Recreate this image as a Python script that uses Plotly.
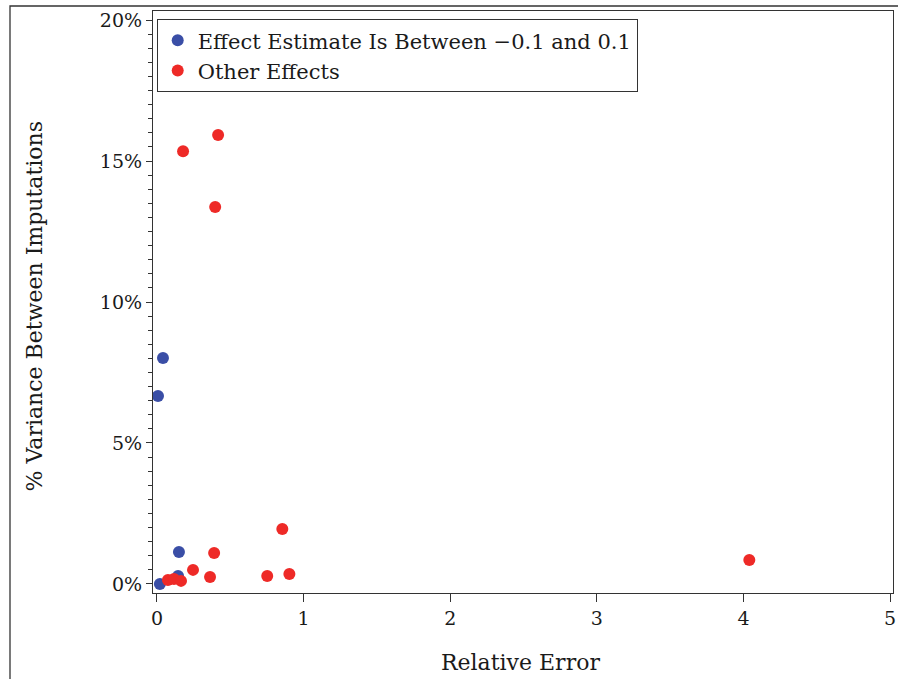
import plotly.graph_objects as go

# Data (x: relative error, y: % variance between imputations)
blue_name = "Effect Estimate Is Between \u22120.1 and 0.1"
blue_x = [0.041, 0.007, 0.150, 0.020, 0.144]
blue_y = [8.01, 6.67, 1.13, 0.00, 0.28]

red_name = "Other Effects"
red_x = [0.178, 0.417, 0.397, 0.855, 0.390, 0.246, 0.362, 0.752, 0.903, 4.04, 0.075, 0.116, 0.164]
red_y = [15.35, 15.92, 13.37, 1.95, 1.10, 0.50, 0.25, 0.28, 0.35, 0.85, 0.14, 0.18, 0.11]

x_ticks = [0, 1, 2, 3, 4, 5]
y_ticks = [0, 5, 10, 15, 20]
y_labels = ["0%", "5%", "10%", "15%", "20%"]

x_title = "Relative Error"
y_title = "% Variance Between Imputations"

FONT = "DejaVu Serif"
TXT = "#1a1a1a"
BLUE = "#3A4EA6"
RED = "#EE2A27"

fig = go.Figure()
fig.add_trace(go.Scatter(x=blue_x, y=blue_y, mode="markers", name=blue_name,
                         marker=dict(color=BLUE, size=12, line=dict(width=0))))
fig.add_trace(go.Scatter(x=red_x, y=red_y, mode="markers", name=red_name,
                         marker=dict(color=RED, size=12, line=dict(width=0))))

axis_common = dict(showgrid=False, zeroline=False, showline=True, linecolor="#333333",
                   linewidth=1.3, mirror=True, ticks="outside", tickcolor="#333333",
                   automargin=False,
                   tickfont=dict(family=FONT, size=19, color=TXT))

fig.update_xaxes(range=[-0.027, 5.02], tickvals=x_ticks, ticklen=8, **axis_common)
fig.update_yaxes(range=[-0.32, 20.32], tickvals=y_ticks, ticktext=y_labels, ticklen=6,
                 minor=dict(dtick=0.5, tick0=0, ticks="outside", ticklen=4, tickcolor="#333333"),
                 **axis_common)

fig.update_layout(
    width=898, height=679,
    margin=dict(l=153, r=5, t=11, b=86, autoexpand=False),
    paper_bgcolor="white", plot_bgcolor="white",
    showlegend=True,
    legend=dict(x=0.005, y=0.986, xanchor="left", yanchor="top",
                bgcolor="white", bordercolor="#333333", borderwidth=1,
                font=dict(family=FONT, size=21, color=TXT),
                itemsizing="constant", tracegroupgap=0),
    annotations=[
        dict(text=x_title, xref="paper", yref="paper", x=0.4966, y=-0.1186,
             xanchor="center", yanchor="middle", showarrow=False,
             font=dict(family=FONT, size=22, color=TXT)),
        dict(text=y_title, xref="paper", yref="paper", x=-0.1595, y=0.4923,
             xanchor="center", yanchor="middle", showarrow=False, textangle=-90,
             font=dict(family=FONT, size=22, color=TXT)),
    ],
    shapes=[dict(type="rect", xref="paper", yref="paper",
                 x0=-143/740, x1=1 + 20/740, y0=-120/582, y1=1 + 5/582,
                 line=dict(color="#333333", width=1.3), fillcolor="rgba(0,0,0,0)", layer="below")],
)

fig.write_html("out.html",
               config={"displayModeBar": False},
               post_script="document.body.style.margin='0';document.body.style.padding='0';")
